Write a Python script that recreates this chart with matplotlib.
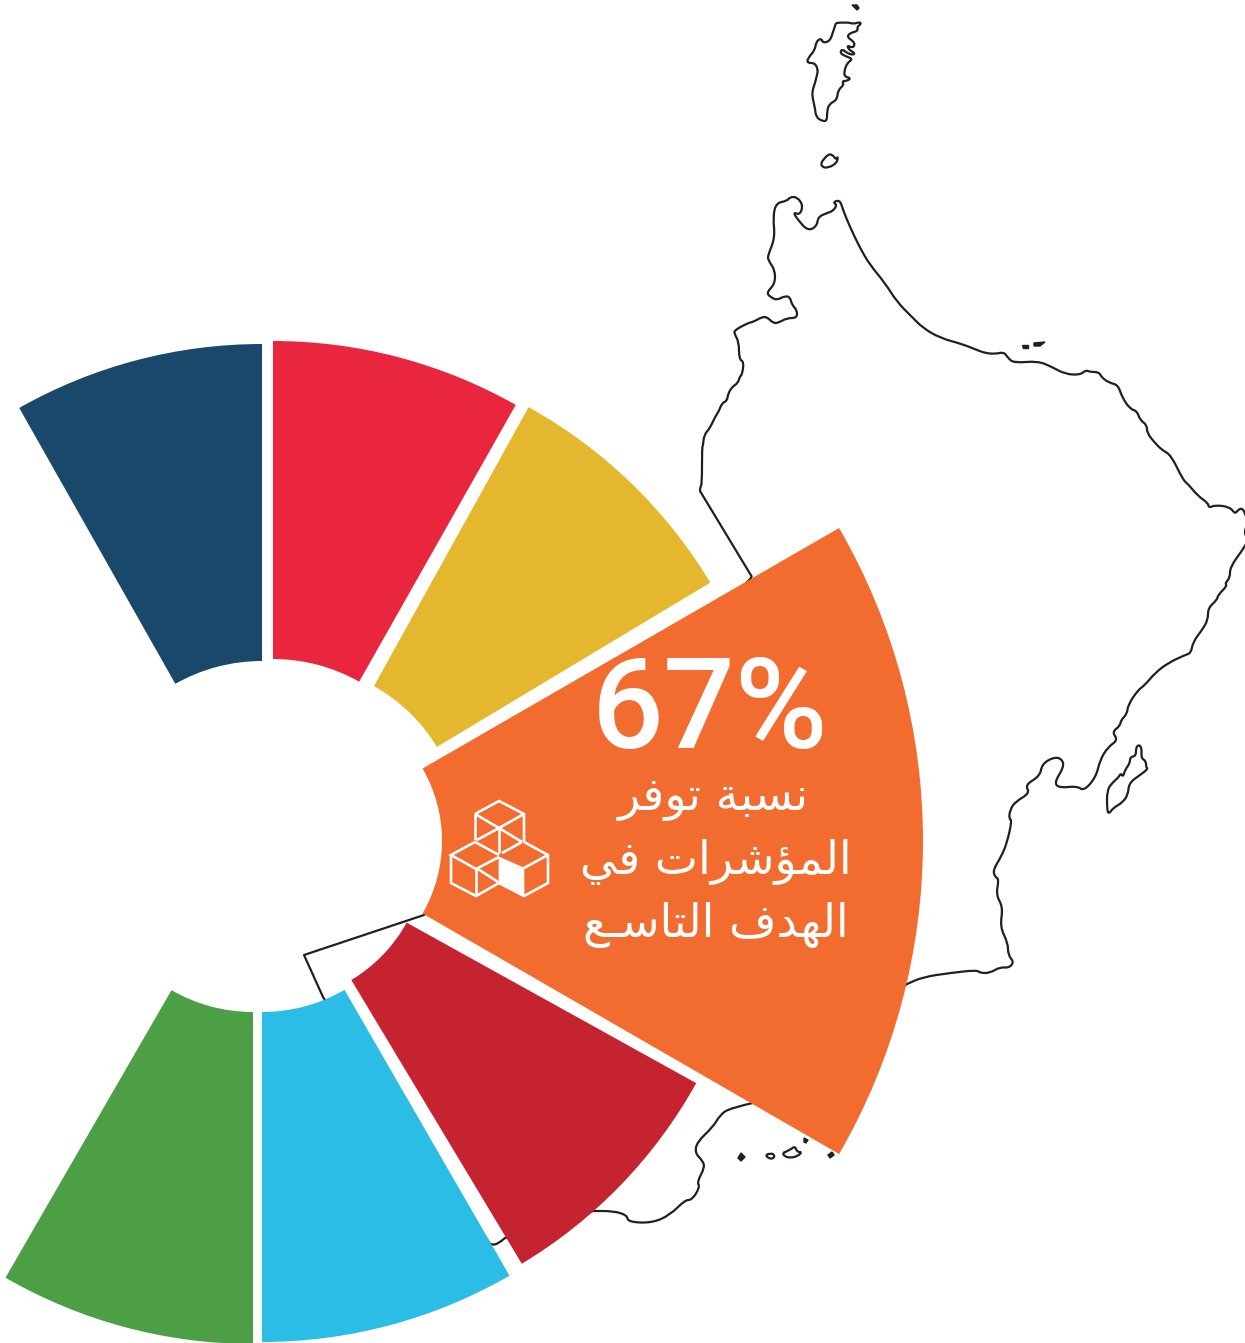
import numpy as np
import matplotlib
matplotlib.use("Agg")
import matplotlib.pyplot as plt
from matplotlib.patches import Wedge, Polygon, PathPatch
from matplotlib.path import Path

# wedge shares in units of 30 degrees, clockwise from the upper left
shares = [1, 1, 1, 2, 1, 1, 1]
colors = ["#19486A", "#EA263F", "#E5B72E", "#F36C2F", "#C5232F", "#2CBDE6", "#4C9F45"]
share_value = "67%"
share_label = ["نسبة توفر", "المؤشرات في", "الهدف التاسـع"]

# map outline, in pixels
coast_a = [(752, 577), (700, 491), (700, 487), (702, 485), (702, 447), (703, 446), (704, 435), (710, 428), (715, 417),
           (719, 411), (722, 403), (727, 401), (728, 394), (732, 387), (738, 383), (740, 376), (742, 375),
           (744, 362), (739, 359), (739, 342), (734, 333), (735, 330), (748, 323), (753, 322), (762, 317),
           (767, 317), (773, 323), (778, 323), (787, 318), (797, 318)]
coast_b = [(797, 310), (792, 305), (790, 297), (785, 296), (777, 300), (772, 298), (766, 293), (775, 284),
           (775, 270), (768, 260), (768, 255), (775, 238), (773, 217), (776, 203), (787, 201), (790, 197),
           (797, 197), (803, 205), (800, 215), (793, 212), (798, 220), (808, 231), (817, 226), (818, 217),
           (827, 213), (833, 211), (837, 205), (833, 202), (840, 200), (843, 210), (850, 227), (860, 248),
           (870, 265), (885, 283), (897, 302), (912, 317), (923, 328), (940, 338), (962, 344), (977, 350)]
coast_c = [(985, 353), (995, 354), (1004, 352), (1008, 358), (1014, 363), (1038, 361), (1052, 367), (1065, 374),
           (1080, 375), (1086, 370), (1090, 372), (1099, 372), (1102, 378), (1110, 383), (1118, 385),
           (1122, 397), (1130, 409), (1137, 411), (1140, 420), (1147, 425), (1147, 433), (1155, 443),
           (1162, 450), (1171, 455), (1183, 480), (1188, 484), (1198, 496), (1208, 503), (1209, 508),
           (1215, 505), (1230, 507), (1235, 514), (1238, 510), (1242, 508), (1245, 513), (1248, 523),
           (1244, 532), (1248, 540), (1244, 548), (1230, 567), (1230, 578), (1225, 583), (1227, 586),
           (1218, 595), (1217, 600), (1208, 608), (1208, 620), (1202, 630), (1193, 642), (1191, 653)]
coast_d = [(1185, 655), (1168, 663), (1155, 673), (1145, 685), (1138, 690), (1128, 705), (1127, 714), (1121, 720),
           (1120, 726), (1112, 732), (1118, 740), (1108, 747), (1100, 760), (1096, 777), (1084, 791),
           (1077, 786), (1060, 788), (1054, 783), (1064, 767), (1062, 759), (1054, 757), (1042, 764),
           (1040, 776), (1025, 785), (1030, 793), (1015, 802), (1010, 810), (1009, 819)]
coast_e = [(1012, 820), (1007, 843), (1001, 857), (993, 870), (995, 877), (999, 879), (996, 895), (1003, 907),
           (1000, 927), (1008, 943), (1008, 955), (1014, 962), (1009, 968), (1000, 967), (990, 973),
           (980, 973), (977, 970), (950, 973), (923, 977), (907, 984)]
coast_f = [(757, 1102), (730, 1108), (720, 1115), (713, 1127), (697, 1142), (695, 1153), (702, 1160), (705, 1167),
           (697, 1182), (700, 1187), (692, 1200), (685, 1200), (670, 1215), (652, 1223), (628, 1222),
           (627, 1215), (613, 1211), (593, 1211), (505, 1238), (497, 1245), (490, 1244),
           (323, 997), (304, 955), (424, 915)]
island_outlines = [
    [(836, 23), (847, 22), (853, 24), (860, 22), (861, 24), (857, 27), (858, 31), (850, 33), (847, 37),
     (853, 41), (855, 45), (852, 48), (847, 45), (849, 50), (855, 53), (853, 55), (847, 53), (842, 49),
     (840, 53), (845, 56), (853, 59), (847, 63), (844, 72), (845, 77), (851, 78), (847, 81), (842, 81),
     (844, 85), (838, 90), (837, 100), (829, 104), (827, 112), (827, 121), (822, 121), (816, 117),
     (815, 108), (813, 100), (812, 92), (815, 83), (817, 75), (818, 70), (815, 63), (807, 63), (808, 58),
     (815, 50), (816, 42), (821, 38), (823, 43), (830, 41), (833, 32)],
    [(824, 159), (828, 154), (833, 155), (836, 160), (838, 156), (837, 163), (828, 168), (822, 167), (821, 163)],
    [(1139, 745), (1142, 747), (1141, 758), (1146, 761), (1146, 767), (1148, 769), (1140, 775), (1129, 783),
     (1128, 795), (1122, 803), (1113, 808), (1109, 814), (1107, 810), (1107, 790), (1113, 782), (1118, 778),
     (1121, 773), (1123, 777), (1125, 770), (1130, 763), (1130, 757), (1136, 756), (1136, 747)],
    [(766, 1155), (770, 1153), (775, 1155), (773, 1159), (768, 1158)],
    [(783, 1153), (790, 1150), (795, 1146), (797, 1152), (802, 1152), (798, 1156), (790, 1158), (784, 1156)],
]
islet_blobs = [
    [(852, 5), (857, 5), (859, 8), (857, 10)],
    [(1022, 345), (1028, 345), (1028, 348), (1023, 348)],
    [(1034, 343), (1045, 342), (1040, 346), (1034, 346)],
    [(738, 1158), (741, 1153), (745, 1157), (741, 1161)],
    [(804, 1138), (808, 1140), (806, 1143), (804, 1142)],
    [(828, 1155), (832, 1152), (834, 1155), (830, 1158)],
]

# wedge geometry: centre, inner and outer radius, small correction of each edge angle
centres = [(262, 837), (273, 834), (292, 834), (297, 841), (272, 848), (262, 847), (253, 849)]
inner = [176, 175, 169, 145, 154, 165, 163]
outer = [493, 493, 488, 626, 485, 495, 495]
start_fix = [-0.5, 0, 1, 0, 1, 0, 0]
end_fix = [0, 0.5, 1, 0, 1, 0, 0]

# isometric cubes icon
cube_lines = [
    [(475, 814), (499, 801), (524, 814), (524, 842)],
    [(475, 814), (475, 840)],
    [(475, 814), (499, 828), (524, 814)],
    [(499, 828), (499, 853)],
    [(477, 840), (499, 828), (522, 842)],
    [(502, 853), (522, 842)],
    [(475, 842), (451, 855), (476, 869), (499, 857)],
    [(475, 842), (499, 855)],
    [(451, 855), (451, 883), (476, 896), (499, 883)],
    [(476, 869), (476, 896)],
    [(478, 869), (498, 882)],
    [(524, 842), (548, 855), (548, 883), (524, 896), (499, 883)],
    [(548, 855), (524, 868)],
]
cube_face = [(499, 857), (524, 868), (524, 896), (499, 883)]

W, H = 1245, 1343

# first code of each letter block: isolated, final, initial, medial
FORMS = {"ا": 0xFE8D, "ب": 0xFE8F, "ة": 0xFE93, "ت": 0xFE95, "د": 0xFEA9, "ر": 0xFEAD, "س": 0xFEB1,
         "ش": 0xFEB5, "ع": 0xFEC9, "ف": 0xFED1, "ل": 0xFEDD, "م": 0xFEE1, "ن": 0xFEE5, "ه": 0xFEE9,
         "و": 0xFEED, "ؤ": 0xFE85, "ي": 0xFEF1}
RIGHT_ONLY = set("اةدروؤ")


def shape(text):
    # matplotlib does no arabic shaping, so pick the joined glyphs and reverse by hand
    out = []
    for i, ch in enumerate(text):
        if ch not in FORMS:
            out.append(ch)
            continue
        prev = text[i - 1] if i > 0 else " "
        nxt = text[i + 1] if i + 1 < len(text) else " "
        join_prev = (prev in FORMS or prev == "ـ") and prev not in RIGHT_ONLY
        join_next = (nxt in FORMS or nxt == "ـ") and ch not in RIGHT_ONLY
        idx = {(False, False): 0, (True, False): 1, (False, True): 2, (True, True): 3}[(join_prev, join_next)]
        out.append(chr(FORMS[ch] + idx))
    return "".join(out[::-1])


def outline(pts, closed=False, long_seg=40):
    # round the short coast steps with quadratic curves, long straight borders stay sharp
    pts = [np.array(p, dtype=float) for p in pts]
    if closed:
        pts = pts + [pts[0]]
    verts = [pts[0]]
    codes = [Path.MOVETO]
    for i in range(1, len(pts) - 1):
        p = pts[i]
        before = np.hypot(*(p - pts[i - 1]))
        after = np.hypot(*(pts[i + 1] - p))
        if before < long_seg and after < long_seg:
            verts += [p, (p + pts[i + 1]) / 2]
            codes += [Path.CURVE3, Path.CURVE3]
        else:
            verts.append(p)
            codes.append(Path.LINETO)
    verts.append(pts[-1])
    codes.append(Path.LINETO)
    return Path(verts, codes)


fig = plt.figure(figsize=(W / 100, H / 100), dpi=100)
ax = fig.add_axes([0, 0, 1, 1])
ax.set_xlim(0, W)
ax.set_ylim(H, 0)
ax.axis("off")

ink = "#231F20"
main = coast_a + coast_b + coast_c + coast_d + coast_e + coast_f
ax.add_patch(PathPatch(outline(main, closed=True), fill=False, ec=ink, lw=1.6, joinstyle="round", zorder=1))
for pts in island_outlines:
    ax.add_patch(PathPatch(outline(pts, closed=True), fill=False, ec=ink, lw=1.6, joinstyle="round", zorder=1))
for pts in islet_blobs:
    ax.add_patch(Polygon(pts, closed=True, fc=ink, ec=ink, lw=1, zorder=1))

# y axis points down, so screen angle a is data angle -a
angle = 120
for n, share in enumerate(shares):
    next_angle = angle - 30 * share
    a_top = angle + start_fix[n]
    a_low = next_angle + end_fix[n]
    ax.add_patch(Wedge(centres[n], outer[n], -a_top, -a_low, width=outer[n] - inner[n],
                       fc=colors[n], ec="none", zorder=2))
    angle = next_angle

ax.text(710, 748, share_value, color="white", fontsize=91, family="Roboto", fontweight="medium",
        ha="center", va="baseline", zorder=3)
for txt, ytext, xtext in zip(share_label, [810, 874, 937], [713, 716, 716]):
    ax.text(xtext, ytext, shape(txt), color="white", fontsize=33, family="DejaVu Sans", ha="center", va="baseline",
            zorder=3, parse_math=False)

for seg in cube_lines:
    xs, ys = zip(*seg)
    ax.plot(xs, ys, color="white", lw=1.9, solid_joinstyle="miter", solid_capstyle="butt", zorder=3)
ax.add_patch(Polygon(cube_face, closed=True, fc="white", ec="white", lw=0.5, zorder=3))

fig.savefig("out.png", dpi=100)
